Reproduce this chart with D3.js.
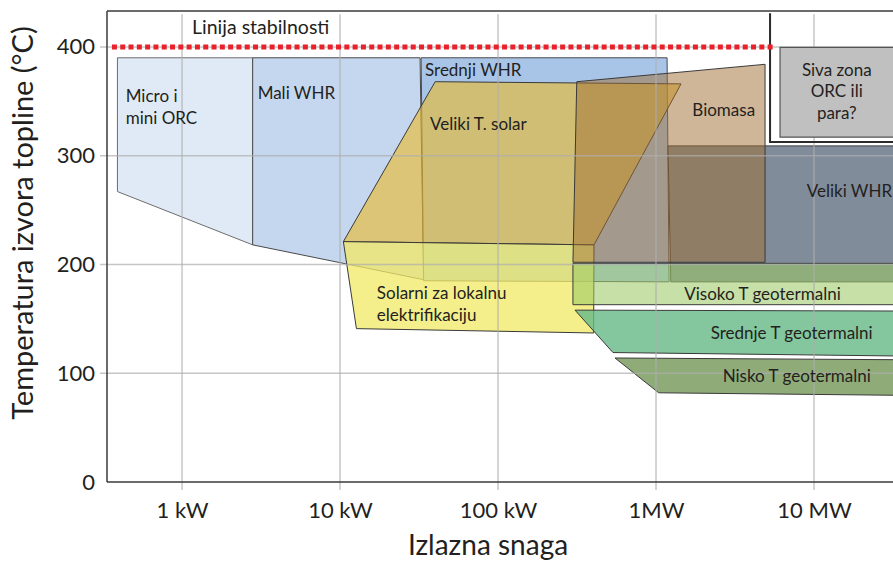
<!DOCTYPE html>
<html>
<head>
<meta charset="utf-8">
<script src="https://cdn.jsdelivr.net/npm/d3@7"></script>
<style>
  body { margin: 0; background: #fff; }
  text { font-family: Lato, "Open Sans", sans-serif; fill: #231f20; }
</style>
</head>
<body>
<svg id="chart"></svg>
<script>
// axis ticks
var xTicks = [1, 10, 100, 1000, 10000];              // kW
var xTickLabels = ["1 kW", "10 kW", "100 kW", "1MW", "10 MW"];
var yTicks = [0, 100, 200, 300, 400];                // °C

// each application field: corners as [power kW, temperature °C]
var microOrc = [[0.39, 390], [2.8, 390], [2.8, 218], [0.39, 267]];
var maliWhr = [[2.8, 390], [32.1, 390], [33.8, 186], [2.8, 218]];
var srednjiWhr = [[32.6, 390], [1175, 390], [1210, 184], [33.8, 185]];
var velikiWhr = [[1191, 309], [100000, 309], [100000, 184], [1240, 184]];
var velikiSolar = [[40, 368], [1440, 366], [405, 218], [10.5, 221]];
var solarLokalni = [[10.5, 221], [405, 218], [403, 137], [12.7, 141]];
var visokoGeo = [[298, 201], [100000, 201], [100000, 163], [298, 163]];
var srednjeGeo = [[307, 158], [100000, 157], [100000, 115], [534, 119]];
var niskoGeo = [[550, 114], [100000, 112], [100000, 79], [1040, 82]];
var biomasa = [[315, 368], [4900, 384], [4900, 202], [298, 202]];
var sivaZona = [[6095, 399.5], [100000, 399.5], [100000, 317], [6095, 317]];

// stability limit and frame around the grey zone
var stabilnost = [[0.36, 400], [5665, 400]];
var sivaOkvir = [[5270, 431], [5270, 312.5], [100000, 312.5]];

// drawing order and looks
var regions = [
  { pts: microOrc, fill: "#e0eaf6", op: 1, stroke: "#6d6d6d" },
  { pts: maliWhr, fill: "#c5d7ee", op: 1, stroke: "#4a4a4a" },
  { pts: srednjiWhr, fill: "#a8c5e8", op: 1, stroke: "#4a4a4a" },
  { pts: velikiWhr, fill: "#808c9a", op: 1, stroke: "#3a3a3a" },
  { pts: velikiSolar, fill: "#ebb928", op: 0.6, stroke: "#3a3a3a" },
  { pts: solarLokalni, fill: "#f0e864", op: 0.75, stroke: "#3a3a3a" },
  { pts: visokoGeo, fill: "#9bc965", op: 0.57, stroke: "#3a3a3a" },
  { pts: srednjeGeo, fill: "#65b886", op: 0.8, stroke: "#3a3a3a" },
  { pts: niskoGeo, fill: "#8fab78", op: 1, stroke: "#3a3a3a" },
  { pts: biomasa, fill: "#a06e32", op: 0.5, stroke: "#3a3a3a" }
];

// labels anchored in data space
var labels = [
  { t: ["Micro i", "mini ORC"], at: [0.44, 349], anchor: "start" },
  { t: ["Mali WHR"], at: [3.01, 352], anchor: "start" },
  { t: ["Srednji WHR"], at: [34.5, 373.4], anchor: "start" },
  { t: ["Veliki T. solar"], at: [37.1, 323.5], anchor: "start" },
  { t: ["Biomasa"], at: [1698, 336.7], anchor: "start" },
  { t: ["Veliki WHR"], at: [8990, 262.2], anchor: "start" },
  { t: ["Solarni za lokalnu", "elektrifikaciju"], at: [17.1, 167.9], anchor: "start" },
  { t: ["Visoko T geotermalni"], at: [1510, 167.3], anchor: "start" },
  { t: ["Srednje T geotermalni"], at: [2218, 131.4], anchor: "start" },
  { t: ["Nisko T geotermalni"], at: [2642, 92.2], anchor: "start" },
  { t: ["Siva zona", "ORC ili", "para?"], at: [13930, 373.2], anchor: "middle" }
];

var width = 893, height = 561;
var svg = d3.select("#chart").attr("width", width).attr("height", height);

var x = d3.scaleLog().domain([0.335, 31623]).range([107, 893]);
var y = d3.scaleLinear().domain([0, 433]).range([482, 11]);

var line = d3.line()
  .x(function(d) { return x(d[0]); })
  .y(function(d) { return y(d[1]); });

// the fields
svg.append("g").selectAll("path")
  .data(regions)
  .enter()
  .append("path")
    .attr("d", function(d) { return line(d.pts) + "Z"; })
    .attr("fill", function(d) { return d.fill; })
    .attr("fill-opacity", function(d) { return d.op; })
    .attr("stroke", function(d) { return d.stroke; })
    .attr("stroke-width", 1);

// grid sits over the fields, a bit see-through
var grid = svg.append("g").attr("stroke", "#aeaeae").attr("stroke-opacity", 0.7).attr("stroke-width", 1.5);
grid.selectAll("line.v")
  .data(xTicks)
  .enter()
  .append("line")
    .attr("x1", function(d) { return x(d); })
    .attr("x2", function(d) { return x(d); })
    .attr("y1", y(430))
    .attr("y2", y(0) + 8);
grid.selectAll("line.h")
  .data(yTicks.slice(1))
  .enter()
  .append("line")
    .attr("x1", x.range()[0] - 7)
    .attr("x2", width)
    .attr("y1", function(d) { return y(d); })
    .attr("y2", function(d) { return y(d); });

// grey zone: frame and box
svg.append("path")
  .attr("d", line(sivaOkvir))
  .attr("fill", "none")
  .attr("stroke", "#2b2b2b")
  .attr("stroke-width", 2);
svg.append("path")
  .attr("d", line(sivaZona) + "Z")
  .attr("fill", "#c0c0c0")
  .attr("stroke", "#555")
  .attr("stroke-width", 1.2);

// stability line
svg.append("path")
  .attr("d", line(stabilnost))
  .attr("fill", "none")
  .attr("stroke", "#e8212a")
  .attr("stroke-width", 5)
  .attr("stroke-dasharray", "5,3.3");

svg.append("text")
  .attr("x", x(1.157))
  .attr("y", y(412))
  .style("font-size", "19.5px")
  .text("Linija stabilnosti");

// region labels
labels.forEach(function(l) {
  var tx = svg.append("text")
    .attr("x", x(l.at[0]))
    .attr("y", y(l.at[1]))
    .attr("text-anchor", l.anchor)
    .style("font-size", "17px");
  l.t.forEach(function(s, i) {
    tx.append("tspan")
      .attr("x", x(l.at[0]))
      .attr("dy", i ? "1.25em" : 0)
      .text(s);
  });
});

// axes
var xAxis = svg.append("g")
  .attr("transform", "translate(0," + y(0) + ")")
  .call(d3.axisBottom(x).tickValues(xTicks)
    .tickFormat(function(d, i) { return xTickLabels[i]; })
    .tickSize(8).tickPadding(12));
var yAxis = svg.append("g")
  .attr("transform", "translate(" + x.range()[0] + ",0)")
  .call(d3.axisLeft(y).tickValues(yTicks).tickSize(7).tickPadding(5));

[xAxis, yAxis].forEach(function(a) {
  a.selectAll(".tick line").remove();
  a.select(".domain").remove();
  a.selectAll("text").style("font-size", "22px").style("font-family", "Lato, 'Open Sans', sans-serif").attr("fill", "#231f20");
});

// frame lines: left, bottom, top
var frame = svg.append("g").attr("stroke", "#3a3a3a").attr("stroke-width", 1.5);
frame.append("line").attr("x1", x.range()[0]).attr("x2", x.range()[0]).attr("y1", y.range()[1]).attr("y2", y(0));
frame.append("line").attr("x1", x.range()[0]).attr("x2", width).attr("y1", y(0)).attr("y2", y(0));
frame.append("line").attr("x1", x.range()[0]).attr("x2", width).attr("y1", y.range()[1]).attr("y2", y.range()[1]);

// axis titles
svg.append("text")
  .attr("x", 488)
  .attr("y", 555)
  .attr("text-anchor", "middle")
  .style("font-size", "28px")
  .text("Izlazna snaga");
svg.append("text")
  .attr("transform", "translate(33,223) rotate(-90)")
  .attr("text-anchor", "middle")
  .style("font-size", "29px")
  .text("Temperatura izvora topline (°C)");
</script>
</body>
</html>
